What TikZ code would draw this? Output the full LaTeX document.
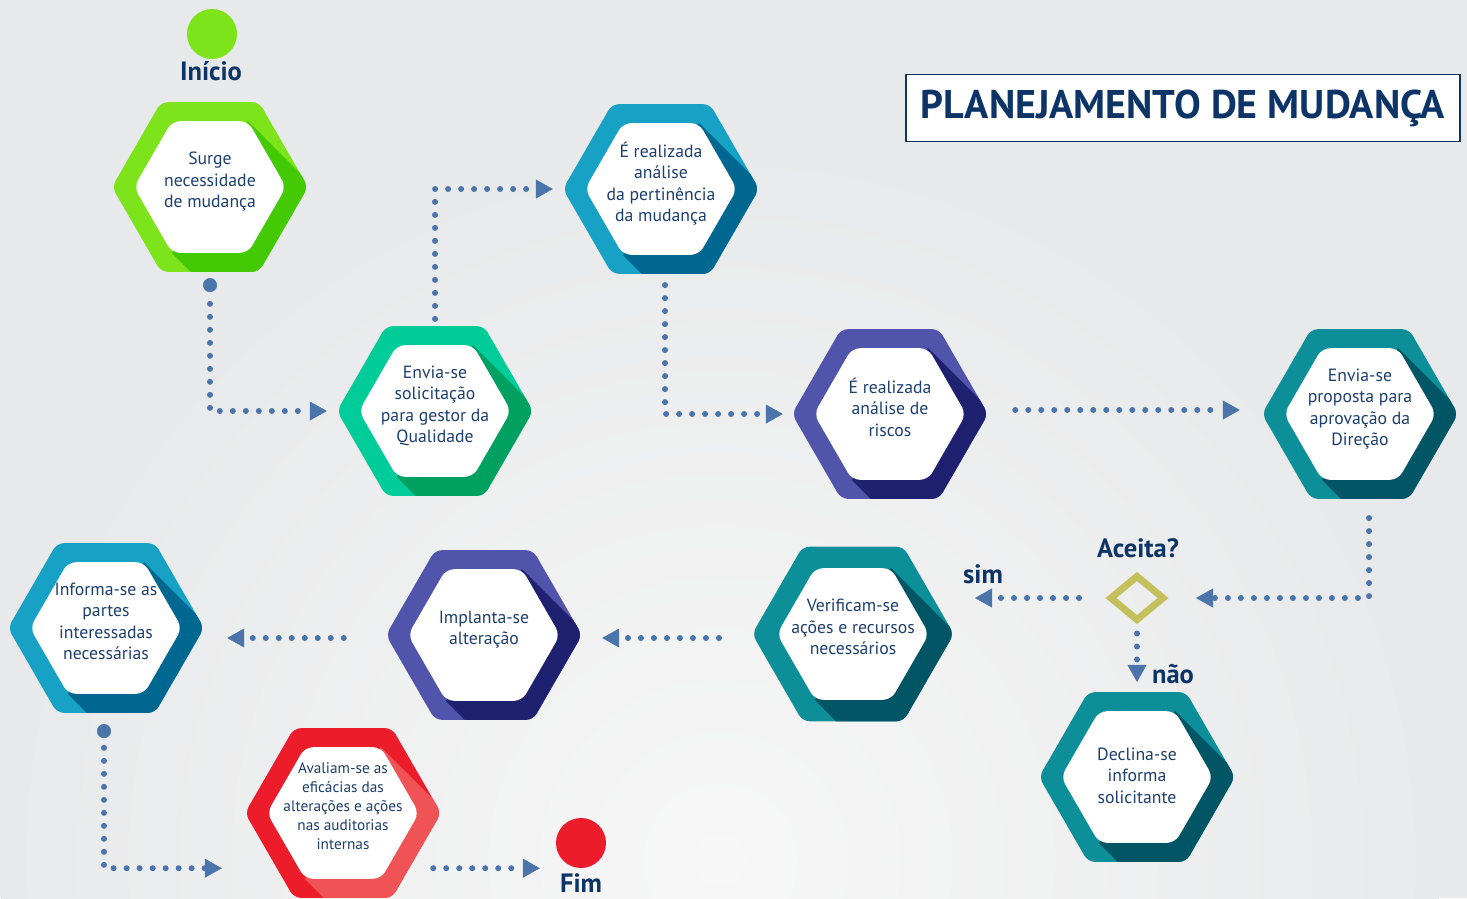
\documentclass[tikz,border=0pt]{standalone}
\usepackage{fontspec}
\setmainfont{PT Sans}
\usetikzlibrary{shapes.geometric,arrows.meta}

\definecolor{navy}{HTML}{0D3466}
\definecolor{txtblue}{HTML}{1D3F6E}
\definecolor{arrowblue}{HTML}{4A74AA}
\definecolor{bggray}{HTML}{E8E9EA}
\definecolor{bglight}{HTML}{F7F7F7}
\definecolor{greenA}{HTML}{7DE31B}
\definecolor{greenB}{HTML}{44C905}
\definecolor{mintA}{HTML}{00CC99}
\definecolor{mintB}{HTML}{00A060}
\definecolor{blueA}{HTML}{17A2C5}
\definecolor{blueB}{HTML}{006790}
\definecolor{indigoA}{HTML}{5055AB}
\definecolor{indigoB}{HTML}{1E216F}
\definecolor{tealA}{HTML}{0D8F99}
\definecolor{tealB}{HTML}{025565}
\definecolor{redA}{HTML}{EC1C2A}
\definecolor{redB}{HTML}{EF5356}
\definecolor{olive}{HTML}{C4C05C}

\newcommand\stepfont{\fontsize{17.7}{21.5}\selectfont}
\newcommand\smallstepfont{\fontsize{15.3}{19}\selectfont}
\newcommand\headfont{\fontsize{26.5}{30}\selectfont\bfseries}

\tikzset{
  stepbox/.style 2 args={regular polygon, regular polygon sides=6, minimum size=196,
    inner sep=0pt, rounded corners=7pt, fill=#1, text=txtblue, align=center, font=\stepfont,
    text depth=14pt,
    path picture={
      \fill[#2, sharp corners] (path picture bounding box.center) ++(38,-66) -- ++(300,300)
        -- ++(-76,132) -- ++(-300,-300) -- cycle;
      \fill[white, rounded corners=8pt] (path picture bounding box.center) ++(76,0)
        -- ++(-38,-65.8) -- ++(-76,0) -- ++(-38,65.8) -- ++(38,65.8) -- ++(76,0) -- cycle;
    }},
  flow/.style={draw=arrowblue, line width=6pt, line cap=round, dash pattern=on 0pt off 13pt},
  >={Triangle[length=17pt,width=19pt,line width=0.5pt]},
  bigdot/.tip={Circle[length=14pt,line width=0.5pt]},
  heading/.style={text=navy, font=\headfont, inner sep=0pt},
}

\begin{document}
\begin{tikzpicture}[x=1pt, y=-1pt]
  % background
  \useasboundingbox (0,0) rectangle (1467,898);
  \fill[bggray] (0,0) rectangle (1467,898);
  \begin{scope}
    \clip (0,0) rectangle (1467,898);
    \shade[inner color=bglight, outer color=bggray] (720,860) circle (720);
  \end{scope}

  % title
  \node[draw=navy, line width=1.5pt, fill=white, minimum width=554, minimum height=67,
    inner sep=0pt, text=navy, font=\fontsize{40}{44}\selectfont\bfseries] (title) at (1183,108)
    {PLANEJAMENTO DE MUDANÇA};

  % start and end
  \node[circle, fill=greenA, minimum size=50, inner sep=0pt] (inicio) at (212,34) {};
  \node[heading] (inicio-lbl) at (211,71) {Início};
  \node[circle, fill=redA, minimum size=50, inner sep=0pt] (fim) at (581,843) {};
  \node[heading] (fim-lbl) at (581,883) {Fim};

  % steps
  \node[stepbox={greenA}{greenB}] (surge) at (210,187) {Surge\\necessidade\\de mudança};
  \node[stepbox={mintA}{mintB}] (solicita) at (435,411) {Envia-se\\solicitação\\para gestor da\\Qualidade};
  \node[stepbox={blueA}{blueB}] (pertinencia) at (661,189) {É realizada\\análise\\da pertinência\\da mudança};
  \node[stepbox={indigoA}{indigoB}] (riscos) at (890,414) {É realizada\\análise de\\riscos};
  \node[stepbox={tealA}{tealB}] (proposta) at (1360,414) {Envia-se\\proposta para\\aprovação da\\Direção};
  \node[stepbox={tealA}{tealB}] (verifica) at (853,634) {Verificam-se\\ações e recursos\\necessários};
  \node[stepbox={indigoA}{indigoB}] (implanta) at (484,635) {Implanta-se\\alteração};
  \node[stepbox={blueA}{blueB}] (informa) at (106,628) {Informa-se as\\partes\\interessadas\\necessárias};
  \node[stepbox={redA}{redB}, font=\smallstepfont] (avalia) at (343,813) {Avaliam-se as\\eficácias das\\alterações e ações\\nas auditorias\\internas};
  \node[stepbox={tealA}{tealB}, text depth=3pt] (declina) at (1137,777) {Declina-se\\informa\\solicitante};

  % decision
  \node[diamond, draw=olive, line width=7pt, minimum width=55, minimum height=46, inner sep=0pt] (aceita) at (1137,598) {};
  \node[heading] (aceita-lbl) at (1138,548) {Aceita?};
  \node[heading] (sim-lbl) at (983,574) {sim};
  \node[heading] (nao-lbl) at (1173,674) {não};
  \coordinate (sim-end) at (975,598);

  % connectors
  \draw[flow, bigdot->, shorten <=6pt, shorten >=10pt, dash phase=1pt] (surge.south) |- (solicita.west);
  \draw[flow, ->, shorten <=7pt, shorten >=10pt] (solicita.north) |- (pertinencia.west);
  \draw[flow, ->, shorten <=11pt, shorten >=9pt] ([xshift=4pt]pertinencia.south) |- (riscos.west);
  \draw[flow, ->, shorten <=27pt, shorten >=22pt] ([yshift=4pt]riscos.east) -- ([yshift=4pt]proposta.west);
  \draw[flow, ->, shorten <=19pt, shorten >=28pt] ([xshift=9pt]proposta.south) |- (aceita.east);
  \draw[flow, ->, shorten <=27pt] (aceita.west) -- (sim-end);
  \draw[flow, ->, shorten <=9pt, shorten >=10pt] (aceita.south) -- (declina.north);
  \draw[flow, ->, shorten <=33pt, shorten >=20pt] ([yshift=-4pt]verifica.west) -- ([yshift=-4pt]verifica.west -| implanta.east);
  \draw[flow, ->, shorten <=42pt, shorten >=23pt] ([yshift=-3pt]implanta.west) -- ([yshift=-3pt]implanta.west -| informa.east);
  \draw[flow, bigdot->, shorten <=11pt, shorten >=23pt, dash phase=3pt] ([xshift=-2pt]informa.south) |- (avalia.west |- fim.south);
  \draw[flow, ->, shorten <=-8pt, shorten >=16pt] (avalia.east |- fim.south) -- (fim.south -| fim.west);
\end{tikzpicture}
\end{document}
